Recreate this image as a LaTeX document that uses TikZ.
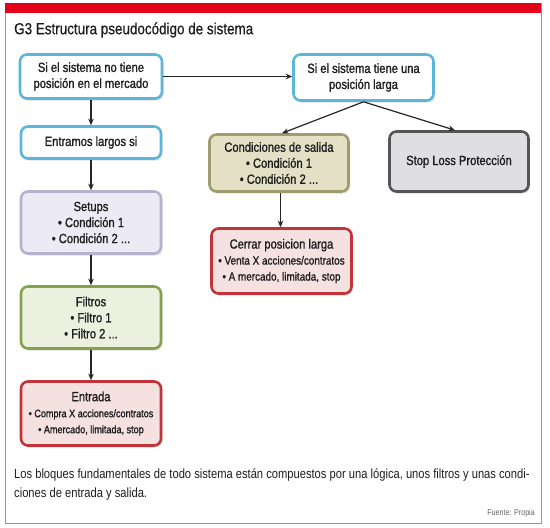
\documentclass[tikz,border=0pt]{standalone}
\usepackage{fontspec}
\setmainfont{Liberation Sans}[FakeStretch=0.84]
\newfontfamily\boxfont{Liberation Sans}[FakeStretch=0.84, FakeBold=1.2]
\newfontfamily\titlefont{Liberation Sans}[FakeStretch=0.84, FakeBold=0.6]
\usetikzlibrary{arrows.meta,shadows}
\definecolor{bandred}{RGB}{226,0,26}
\definecolor{framegray}{RGB}{150,150,150}
\definecolor{txt}{RGB}{30,30,30}
\definecolor{blueDraw}{RGB}{92,182,218}
\definecolor{lavFill}{RGB}{236,234,245}
\definecolor{lavDraw}{RGB}{182,178,206}
\definecolor{grnFill}{RGB}{235,241,222}
\definecolor{grnDraw}{RGB}{132,162,76}
\definecolor{redFill}{RGB}{246,225,225}
\definecolor{redDraw}{RGB}{192,52,58}
\definecolor{khFill}{RGB}{227,224,198}
\definecolor{khDraw}{RGB}{160,156,112}
\definecolor{gryFill}{RGB}{223,223,225}
\definecolor{gryDraw}{RGB}{85,85,85}
\begin{document}
\begin{tikzpicture}[x=1pt,y=-1pt,
  box/.style={draw, rounded corners=7pt, line width=2.6pt, align=center,
    minimum width=140pt, inner sep=1pt, text=txt,
    font=\boxfont\fontsize{13.3}{16}\selectfont,
    drop shadow={shadow xshift=1.5pt, shadow yshift=-2pt, opacity=0.25}},
  bluebox/.style={box, draw=blueDraw, fill=white},
  lavbox/.style={box, draw=lavDraw, fill=lavFill},
  grnbox/.style={box, draw=grnDraw, fill=grnFill},
  redbox/.style={box, draw=redDraw, fill=redFill},
  khbox/.style={box, draw=khDraw, fill=khFill},
  grybox/.style={box, draw=gryDraw, fill=gryFill},
  conn/.style={draw=black!85, line width=1.2pt, -{Stealth[length=6.5pt,width=5.5pt]}}
]
\useasboundingbox (0,0) rectangle (550,528);
% frame
\draw[framegray, line width=0.8pt, fill=white] (5,3) rectangle (541,523);
\fill[bandred] (5,3) rectangle (541,13);
\node[anchor=west, text=txt, font=\titlefont\fontsize{16}{18}\selectfont, inner sep=0pt] (title) at (14,30) {G3 Estructura pseudocódigo de sistema};

% boxes
\node[bluebox, minimum width=142pt, minimum height=44pt] (A) at (91,76.5) {Si el sistema no tiene\\posición en el mercado};
\node[bluebox, minimum height=46pt] (B) at (363.5,77.5) {Si el sistema tiene una\\posición larga};
\node[bluebox, minimum height=32pt] (C) at (91,142.5) {Entramos largos si};
\node[lavbox, minimum height=62pt] (D) at (91,222.5) {Setups\\• Condición 1\\• Condición 2 ...};
\node[grnbox, minimum height=62pt] (E) at (91,317.5) {Filtros\\• Filtro 1\\• Filtro 2 ...};
\node[redbox, minimum height=64pt] (F) at (91,413.5) {Entrada\\{\fontsize{10.8}{14}\selectfont • Compra X acciones/contratos}\\{\fontsize{10.8}{14}\selectfont • Amercado, limitada, stop}};
\node[khbox, minimum width=139pt, minimum height=57pt] (G) at (279,163) {Condiciones de salida\\• Condición 1\\• Condición 2 ...};
\node[grybox, minimum width=139pt, minimum height=60pt] (H) at (459,161.5) {Stop Loss Protección};
\node[redbox, minimum height=65pt] (I) at (281.5,261) {Cerrar posicion larga\\{\fontsize{11.8}{14.5}\selectfont • Venta X acciones/contratos}\\{\fontsize{11.8}{14.5}\selectfont • A mercado, limitada, stop}};

% connectors
\draw[conn] (A.east) -- (B.west |- A.east);
\draw[conn] (A.south) -- (C.north);
\draw[conn] (C.south) -- (D.north);
\draw[conn] (D.south) -- (E.north);
\draw[conn] (E.south) -- (F.north);
\draw[conn] (B.south) -- ([xshift=3pt]G.north);
\draw[conn] (B.south) -- ([xshift=-4pt]H.north);
\draw[conn] ([xshift=1.5pt]G.south) -- ([xshift=-1pt]I.north);

% caption
\node[anchor=north west, align=left, text=txt, inner sep=0pt, font=\fontsize{13.3}{19}\selectfont] (cap) at (14,469)
  {Los bloques fundamentales de todo sistema están compuestos por una lógica, unos filtros y unas condi-\\ciones de entrada y salida.};
\node[anchor=east, text=black!60, inner sep=0pt, font=\fontsize{8.5}{10}\selectfont] (src) at (535,513) {Fuente: Propia};
\end{tikzpicture}
\end{document}
